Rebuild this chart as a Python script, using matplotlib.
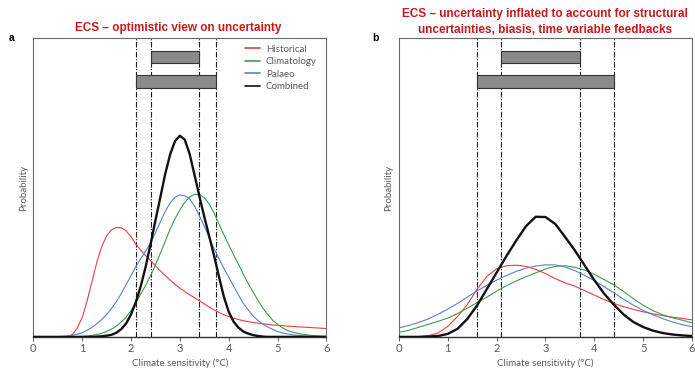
import numpy as np
import matplotlib
matplotlib.use("Agg")
import matplotlib.pyplot as plt

# climate sensitivity grid (degC)
x_a = np.round(np.arange(61) * 0.1, 1)
x_b = np.round(np.arange(31) * 0.2, 1)

# panel a : optimistic view
hist_a = [0, 0, 0, 0, 0, 0, 0, 0,
          0.008, 0.030, 0.065, 0.120, 0.185, 0.250, 0.302, 0.338, 0.358, 0.366, 0.365, 0.355,
          0.335, 0.310, 0.290, 0.272, 0.255, 0.238, 0.221, 0.205, 0.190, 0.176, 0.163,
          0.152, 0.141, 0.131, 0.121, 0.110, 0.100, 0.090, 0.082, 0.074, 0.068,
          0.063, 0.058, 0.054, 0.051, 0.048, 0.046, 0.044, 0.042, 0.040, 0.039,
          0.038, 0.036, 0.035, 0.034, 0.033, 0.032, 0.031, 0.030, 0.029, 0.028]
clim_a = [0, 0, 0, 0, 0, 0, 0, 0, 0,
          0.001, 0.002, 0.003, 0.005, 0.008, 0.012, 0.018, 0.026, 0.036, 0.050, 0.066,
          0.088, 0.115, 0.143, 0.173, 0.205, 0.240, 0.280, 0.320, 0.360, 0.395,
          0.425, 0.450, 0.468, 0.477, 0.476, 0.466, 0.445, 0.415, 0.378, 0.342,
          0.308, 0.275, 0.243, 0.210, 0.178, 0.150, 0.122, 0.096, 0.075, 0.056,
          0.042, 0.030, 0.022, 0.016, 0.012, 0.009, 0.007, 0.005, 0.004, 0.003, 0.002]
palaeo_a = [0, 0, 0, 0, 0,
            0.001, 0.002, 0.003, 0.005, 0.009, 0.014, 0.022, 0.032, 0.044, 0.058,
            0.075, 0.095, 0.118, 0.145, 0.175, 0.205, 0.235, 0.262, 0.287, 0.315,
            0.348, 0.385, 0.420, 0.448, 0.467, 0.475, 0.472, 0.462, 0.438, 0.405,
            0.370, 0.333, 0.295, 0.262, 0.230, 0.200, 0.170, 0.140, 0.112, 0.090,
            0.070, 0.055, 0.043, 0.033, 0.025, 0.018, 0.013, 0.010, 0.007, 0.005,
            0.004, 0.003, 0.002, 0.001, 0.001, 0.000]
comb_a = [0, 0, 0, 0, 0, 0, 0, 0, 0, 0, 0, 0, 0,
          0.001, 0.002, 0.004, 0.007, 0.014, 0.026, 0.045, 0.075, 0.117, 0.170, 0.235,
          0.310, 0.390, 0.467, 0.545, 0.610, 0.655, 0.673, 0.660, 0.612, 0.542, 0.470,
          0.402, 0.337, 0.272, 0.202, 0.135, 0.084, 0.051, 0.031, 0.018, 0.011,
          0.006, 0.003, 0.001,
          0, 0, 0, 0, 0, 0, 0, 0, 0, 0, 0, 0, 0]

# panel b : inflated uncertainty
hist_b = [0, 0, 0.001, 0.004, 0.013, 0.035, 0.068, 0.108, 0.160, 0.202, 0.228,
          0.238, 0.240, 0.236, 0.226, 0.212, 0.195, 0.181, 0.170, 0.155, 0.140,
          0.125, 0.112, 0.101, 0.092, 0.084, 0.077, 0.071, 0.066, 0.062, 0.057]
clim_b = [0.015, 0.022, 0.032, 0.042, 0.052, 0.063, 0.078, 0.096, 0.115, 0.133, 0.153,
          0.171, 0.187, 0.201, 0.214, 0.227, 0.236, 0.238, 0.233, 0.224, 0.209,
          0.192, 0.174, 0.152, 0.128, 0.106, 0.088, 0.074, 0.064, 0.056, 0.047]
palaeo_b = [0.030, 0.038, 0.048, 0.060, 0.076, 0.093, 0.112, 0.133, 0.154, 0.172, 0.190,
            0.205, 0.219, 0.230, 0.237, 0.241, 0.241, 0.234, 0.222, 0.206, 0.188,
            0.168, 0.148, 0.126, 0.106, 0.089, 0.074, 0.061, 0.050, 0.041, 0.034]
comb_b = [0, 0, 0, 0.001, 0.003, 0.010, 0.027, 0.060, 0.105, 0.160, 0.215,
          0.270, 0.322, 0.370, 0.402, 0.401, 0.378, 0.335, 0.290, 0.240, 0.190,
          0.145, 0.108, 0.075, 0.050, 0.033, 0.021, 0.013, 0.008, 0.005, 0.003]

# likely / very likely ranges (vertical dash-dot lines + grey bars)
likely_a = (2.4, 3.4)
vlikely_a = (2.1, 3.75)
likely_b = (2.1, 3.7)
vlikely_b = (1.6, 4.4)

labels = ["Historical", "Climatology", "Palaeo", "Combined"]
colors = ["#e2413f", "#3e9c4c", "#5b7fcf", "#111111"]
widths = [0.8, 0.8, 0.8, 1.7]

title_a = "ECS \u2013 optimistic view on uncertainty"
title_b = ("ECS \u2013 uncertainty inflated to account for structural\n"
           "uncertainties, biasis, time variable feedbacks")

grey = "#5a5a5a"

fig = plt.figure(figsize=(6.95, 3.69), dpi=100)
ax_a = fig.add_axes([0.048, 0.087, 0.4216, 0.810])
ax_b = fig.add_axes([0.574, 0.087, 0.4216, 0.810])


def draw_panel(ax, x, curves, likely, vlikely):
    for y, lab, c, w in zip(curves, labels, colors, widths):
        ax.plot(x, y, color=c, lw=w, label=lab, zorder=3,
                solid_joinstyle="round", solid_capstyle="round")
    for v in list(likely) + list(vlikely):
        ax.axvline(v, color="#222222", lw=0.8, ls=(0, (5, 1.5, 1, 1.5)), zorder=2)
    ax.barh(0.936, likely[1] - likely[0], left=likely[0], height=0.042,
            color="#8a8a8a", edgecolor="#333333", lw=0.8, zorder=4)
    ax.barh(0.8545, vlikely[1] - vlikely[0], left=vlikely[0], height=0.045,
            color="#8a8a8a", edgecolor="#333333", lw=0.8, zorder=4)
    ax.set_xlim(0, 6)
    ax.set_ylim(0, 1)
    ax.set_yticks([])
    ax.set_xticks(range(7))
    ax.tick_params(axis="x", direction="out", length=3, width=0.7, colors=grey,
                   labelsize=8, pad=1.5)
    for lbl in ax.get_xticklabels():
        lbl.set_fontfamily("Lato")
    for s in ax.spines.values():
        s.set_color("#6a6a6a")
        s.set_linewidth(0.8)
    ax.spines["bottom"].set_color("#333333")
    ax.spines["bottom"].set_linewidth(1.0)
    ax.set_xlabel("Climate sensitivity (\u00b0C)", fontsize=7, color=grey,
                  family="Lato", labelpad=3)
    ax.set_ylabel("Probability", fontsize=7, color=grey, family="Lato", labelpad=4)


draw_panel(ax_a, x_a, [hist_a, clim_a, palaeo_a, comb_a], likely_a, vlikely_a)
draw_panel(ax_b, x_b, [hist_b, clim_b, palaeo_b, comb_b], likely_b, vlikely_b)

leg = ax_a.legend(loc="upper left", bbox_to_anchor=(0.71, 0.99), frameon=False,
                  fontsize=7, handlelength=1.5, handletextpad=0.6,
                  labelspacing=0.35, borderaxespad=0)
for t in leg.get_texts():
    t.set_color(grey)
    t.set_fontfamily("Lato")
for h in leg.legend_handles:
    h.set_linewidth(1.2)

red = "#c8191c"
fig.text(0.257, 0.924, title_a, color=red, fontsize=8.5, fontweight="bold",
         family="Liberation Sans", ha="center", va="center")
fig.text(0.784, 0.94, title_b, color=red, fontsize=8.5, fontweight="bold",
         family="Liberation Sans", ha="center", va="center", linespacing=1.45)
fig.text(0.012, 0.897, "a", fontsize=7.5, fontweight="bold",
         family="Liberation Sans", va="center")
fig.text(0.536, 0.897, "b", fontsize=7.5, fontweight="bold",
         family="Liberation Sans", va="center")

fig.savefig("out.png", dpi=100)
